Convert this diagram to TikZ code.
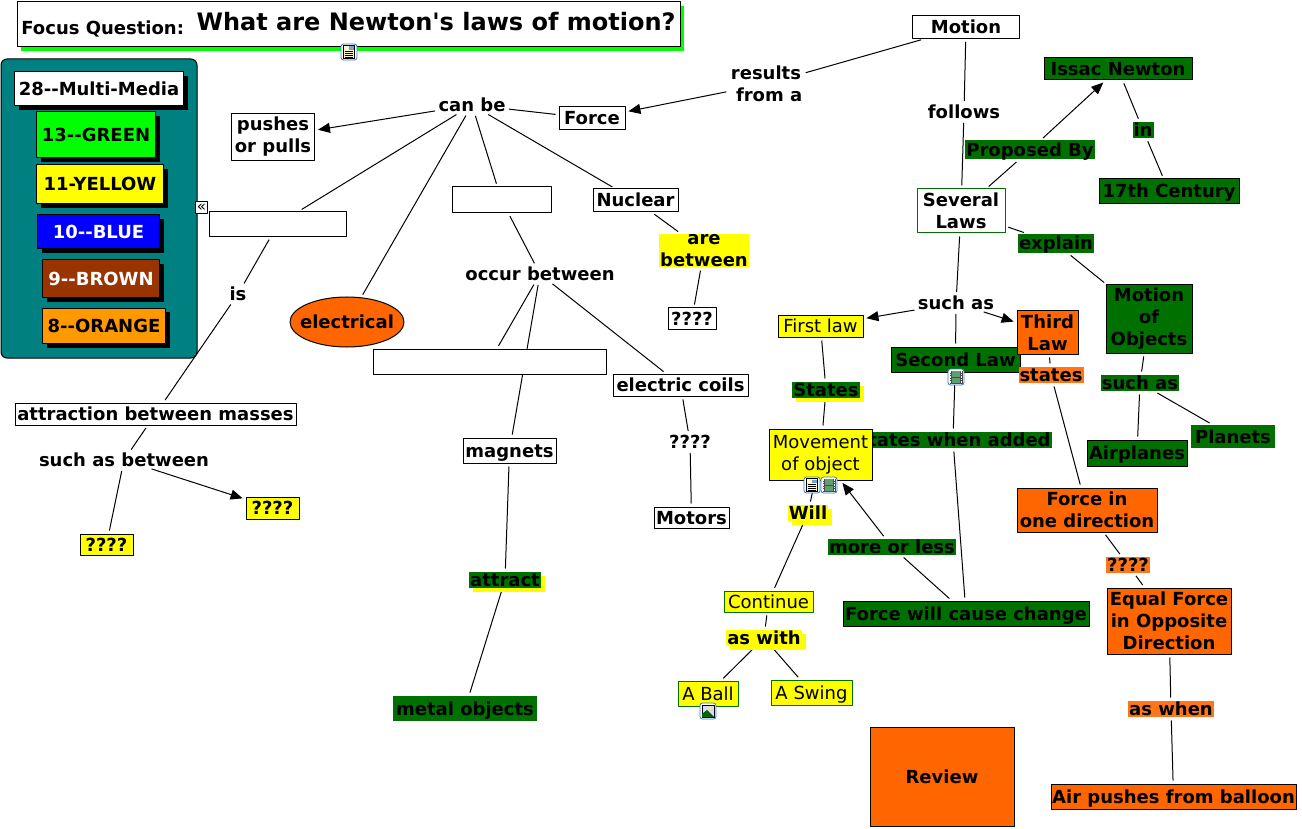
\documentclass[tikz,border=0pt]{standalone}
\usepackage{fontspec}
\usetikzlibrary{arrows.meta,backgrounds,shadows,shapes.geometric}
\newfontfamily\cmapfont{DejaVu Sans}
\definecolor{cmapteal}{HTML}{008080}
\definecolor{cmapgreen}{HTML}{007000}
\definecolor{cmaporange}{HTML}{FF6600}
\definecolor{cmapbrown}{HTML}{993300}
\definecolor{cmapamber}{HTML}{FF9900}
\definecolor{cmapyellow}{HTML}{FFFF00}
\definecolor{cmaplime}{HTML}{00FF00}
\definecolor{cmapblue}{HTML}{0000FF}
\definecolor{iconblue}{HTML}{3A78C8}
\definecolor{iconfilm}{HTML}{5F9F6F}
\definecolor{iconpaper}{HTML}{FFF8C0}
\tikzset{
	box/.style={draw=black,line width=1pt,inner sep=0pt,align=center,text height=14pt,text depth=1pt},
	twolines/.style={text height={},text depth={}},
	whitebox/.style={box,fill=white},
	yellowbox/.style={box,fill=cmapyellow,font=\cmapfont\fontsize{18}{22}\selectfont\mdseries},
	yellowgreen/.style={yellowbox,draw=cmapgreen},
	greenbox/.style={box,fill=cmapgreen},
	orangebox/.style={box,fill=cmaporange},
	blackshadow/.style={general shadow={shadow xshift=4pt,shadow yshift=-4pt,fill=black}},
	yellowshadow/.style={general shadow={shadow xshift=4pt,shadow yshift=-4pt,fill=cmapyellow}},
	linkword/.style={inner sep=0pt,align=center,text height=14pt,text depth=1pt},
	greenlink/.style={linkword,fill=cmapgreen,inner xsep=1pt,inner ysep=.5pt},
	orangelink/.style={linkword,fill=cmaporange!90,inner xsep=1pt,inner ysep=.5pt},
	yellowlink/.style={linkword,fill=cmapyellow,inner xsep=1pt,inner ysep=.5pt},
	joinline/.style={line width=1pt,shorten <=3pt,shorten >=3pt},
	noteicon/.pic={
		\draw[iconblue,rounded corners=2.5pt,fill=white,line width=.8pt] (-8,-8) rectangle (8,8);
		\draw[black,fill=iconpaper,line width=.6pt] (-6,-6.5) rectangle (5.5,6.5);
		\foreach \y in {-1,1,3,5}{\draw[black,line width=.5pt] (-4.5,\y)--(4,\y);}
		\fill[iconblue!70] (0,-5.5) rectangle (4.5,-2);
	},
	filmicon/.pic={
		\draw[iconblue,rounded corners=2.5pt,fill=white,line width=.8pt] (-8,-8) rectangle (8,8);
		\fill[black!70] (-6.5,-6.5) rectangle (6.5,6.5);
		\fill[iconfilm] (-4,-6) rectangle (4,-.5);
		\fill[iconfilm] (-4,.5) rectangle (4,6);
		\foreach \y in {-5,-2.5,0,2.5,5}{
			\fill[white] (-6,\y-.6) rectangle (-4.8,\y+.6);
			\fill[white] (4.8,\y-.6) rectangle (6,\y+.6);
		}
	},
	imageicon/.pic={
		\draw[iconblue,rounded corners=2.5pt,fill=white,line width=.8pt] (-8,-8) rectangle (8,8);
		\draw[black,fill=blue!15,line width=.6pt] (-6,-6) rectangle (6,6);
		\fill[green!40!black] (-6,6)--(-6,3)--(-1,-1)--(2,2)--(6,6)--cycle;
		\fill[cmapyellow] (2,-3) circle (1.5);
	},
}
\begin{document}
\begin{tikzpicture}[x=1pt,y=-1pt,line width=1pt,font=\cmapfont\fontsize{18}{22}\selectfont\bfseries,line join=round,>={Triangle[length=12pt,width=10pt]}]
	\useasboundingbox (0,0) rectangle (1302,829);
	\node[box,fill=white,minimum width=663,minimum height=45,
		general shadow={shadow xshift=4pt,shadow yshift=-4pt,fill=cmaplime},twolines] (focus) at (348.5,24.5) {Focus Question:\ \ \raisebox{4pt}{\fontsize{24}{26}\selectfont What are Newton's laws of motion?}};
	\node[box,fill=cmapteal,rounded corners=6pt,minimum width=196,minimum height=299] (panel) at (99,208.5) {};
	\node[whitebox,blackshadow,minimum width=169,minimum height=34] (leg28) at (99,89) {28--Multi-Media};
	\node[box,fill=cmaplime,blackshadow,minimum width=119,minimum height=46] (leg13) at (96,135) {13--GREEN};
	\node[box,fill=cmapyellow,blackshadow,minimum width=127,minimum height=39] (leg11) at (100,184.5) {11-YELLOW};
	\node[box,fill=cmapblue,text=white,blackshadow,minimum width=122,minimum height=34] (leg10) at (98.5,232) {10--BLUE};
	\node[box,fill=cmapbrown,text=white,blackshadow,minimum width=117,minimum height=38] (leg9) at (101,279) {9--BROWN};
	\node[box,fill=cmapamber,blackshadow,minimum width=123,minimum height=35] (leg8) at (104,326) {8--ORANGE};
	\node[whitebox,minimum width=12,minimum height=12,text height={},text depth={},inner sep=-2pt,font=\cmapfont\fontsize{15}{15}\selectfont] (collapse) at (201.5,208) {«};
	\node[whitebox,twolines,minimum width=83,minimum height=47] (pushes) at (273,137) {pushes\\or pulls};
	\node[whitebox,minimum width=137,minimum height=25] (blankone) at (278,224) {};
	\node[box,ellipse,fill=cmaporange,inner xsep=-7pt,minimum width=114,minimum height=50] (electrical) at (347,322) {electrical};
	\node[whitebox,minimum width=99,minimum height=26] (blanktwo) at (501.5,200) {};
	\node[whitebox,minimum width=233,minimum height=25] (blankthree) at (489.5,361.5) {};
	\node[whitebox,minimum width=66,minimum height=23] (force) at (592,118.5) {Force};
	\node[whitebox,minimum width=107,minimum height=23] (motion) at (966,27) {Motion};
	\node[whitebox,minimum width=85,minimum height=23] (nuclear) at (635.5,200.5) {Nuclear};
	\node[whitebox,minimum width=48,minimum height=21] (unknownone) at (692,318.5) {????};
	\node[whitebox,minimum width=135,minimum height=22] (coils) at (680.5,385) {electric coils};
	\node[whitebox,minimum width=75,minimum height=21] (motors) at (691.5,517.5) {Motors};
	\node[whitebox,minimum width=93,minimum height=25] (magnets) at (509.5,450.5) {magnets};
	\node[whitebox,minimum width=281,minimum height=22] (masses) at (155.5,414) {attraction between masses};
	\node[box,fill=cmapyellow,minimum width=53,minimum height=22] (unknowntwo) at (272.5,508) {????};
	\node[box,fill=cmapyellow,minimum width=53,minimum height=21] (unknownthree) at (106.5,544.5) {????};
	\node[greenbox,draw=none,minimum width=144,minimum height=25] (metal) at (465,708.5) {metal objects};
	\node[greenbox,minimum width=148,minimum height=22] (issac) at (1118,69) {Issac Newton};
	\node[greenbox,minimum width=140,minimum height=25] (century) at (1169,191.5) {17th Century};
	\node[whitebox,draw=cmapgreen,twolines,minimum width=88,minimum height=44] (several) at (961,211) {Several\\Laws};
	\node[greenbox,twolines,minimum width=86,minimum height=68] (objects) at (1149,319) {Motion\\of\\Objects};
	\node[greenbox,minimum width=100,minimum height=26] (airplanes) at (1137,453) {Airplanes};
	\node[greenbox,draw=none,minimum width=84,minimum height=23] (planets) at (1233,436.5) {Planets};
	\node[yellowbox,minimum width=85,minimum height=22] (firstlaw) at (820.5,326) {First law};
	\node[greenbox,minimum width=129,minimum height=25] (secondlaw) at (955.5,359.5) {Second Law};
	\node[orangebox,twolines,minimum width=61,minimum height=43] (thirdlaw) at (1047.5,332.5) {Third\\Law};
	\node[greenlink] (whenadded) at (953,440) {States when added};
	\node[yellowbox,twolines,minimum width=103,minimum height=51] (movement) at (820.5,454.5) {Movement\\of object};
	\node[yellowgreen,minimum width=89,minimum height=21] (continue) at (768.5,601.5) {Continue};
	\node[yellowgreen,minimum width=60,minimum height=25] (ball) at (708,693.5) {A Ball};
	\node[yellowgreen,minimum width=81,minimum height=25] (swing) at (811.5,692.5) {A Swing};
	\node[greenbox,minimum width=246,minimum height=25] (change) at (966,613.5) {Force will cause change};
	\node[orangebox,twolines,minimum width=140,minimum height=44] (onedirection) at (1087,510) {Force in\\one direction};
	\node[orangebox,twolines,minimum width=124,minimum height=66] (opposite) at (1169,621) {Equal Force\\in Opposite\\Direction};
	\node[orangebox,minimum width=245,minimum height=25] (balloon) at (1173.5,796.5) {Air pushes from balloon};
	\node[orangebox,minimum width=144,minimum height=99] (review) at (942,776.5) {Review};
	\node[linkword] (canbe) at (472,105) {can be};
	\node[linkword,twolines] (results) at (766,84) {results\\\ from a};
	\node[linkword] (follows) at (964,112) {follows};
	\node[linkword] (is) at (238,294) {is};
	\node[linkword] (suchbetween) at (124,460) {such as between};
	\node[linkword] (occur) at (540,274) {occur between};
	\node[linkword] (unknownfour) at (690,442) {????};
	\node[linkword] (suchas) at (956,303) {such as};
	\node[yellowlink,twolines] (between) at (704,250.5) {are\\between};
	\node[greenlink,yellowshadow] (attract) at (505,580) {attract};
	\node[greenlink,minimum height=19] (proposed) at (1030,150) {Proposed By};
	\node[greenlink] (in) at (1143,130) {in};
	\node[greenlink,minimum height=19] (explain) at (1056,243.5) {explain};
	\node[greenlink] (suchgreen) at (1140,383) {such as};
	\node[greenlink,yellowshadow] (states) at (826,390) {States};
	\node[orangelink] (statesthird) at (1051,375) {states};
	\node[yellowlink,yellowshadow] (will) at (808,513) {Will};
	\node[yellowlink,yellowshadow] (aswith) at (764,638) {as with};
	\node[greenlink] (moreless) at (892,547) {more or less};
	\node[orangelink] (unknownfive) at (1128,565) {????};
	\node[orangelink] (aswhen) at (1171,709) {as when};
	\begin{scope}[on background layer]
		\foreach \a/\b in {motion/results,force/canbe,canbe/blankone,canbe/electrical,canbe/blanktwo,canbe/nuclear,blankone/is,is/masses,masses/suchbetween,suchbetween/unknownthree,blanktwo/occur,occur/blankthree,occur/magnets,occur/coils,coils/unknownfour,unknownfour/motors,magnets/attract,attract/metal,nuclear/between,between/unknownone,motion/follows,follows/several,several/proposed,issac/in,in/century,several/explain,explain/objects,several/suchas,suchas/secondlaw,firstlaw/states,states/movement,movement/will,will/continue,continue/aswith,aswith/ball,aswith/swing,secondlaw/whenadded,whenadded/change,change/moreless,thirdlaw/statesthird,statesthird/onedirection,onedirection/unknownfive,unknownfive/opposite,opposite/aswhen,aswhen/balloon,objects/suchgreen,suchgreen/airplanes,suchgreen/planets}
		{\draw[joinline] (\a)--(\b);}
		\foreach \a/\b in {results/force,canbe/pushes,suchbetween/unknowntwo,proposed/issac,suchas/firstlaw,suchas/thirdlaw,moreless/movement}
		{\draw[joinline,->] (\a)--(\b);}
	\end{scope}
	\pic (iconfocus) at (349,52) {noteicon};
	\pic (iconsecond) at (956,377) {filmicon};
	\pic (iconmovenote) at (812,485) {noteicon};
	\pic (iconmovefilm) at (829,485) {filmicon};
	\pic (iconball) at (708,711) {imageicon};
\end{tikzpicture}
\end{document}
